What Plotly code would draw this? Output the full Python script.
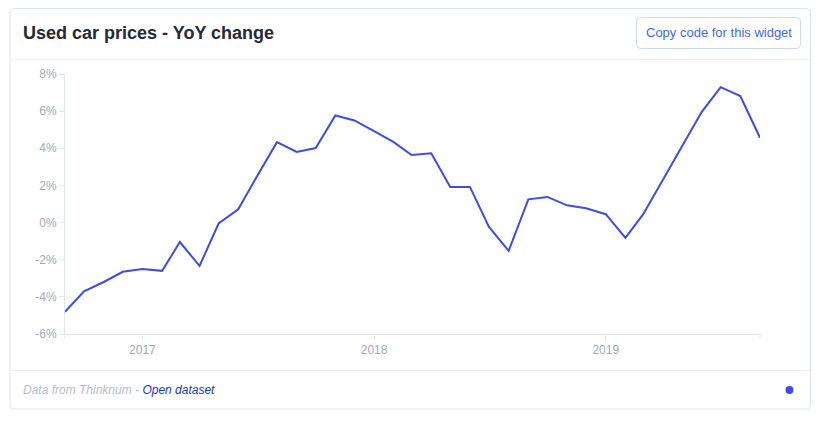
import plotly.graph_objects as go

# ---- data ----
months = ["2016-09-01", "2016-10-01", "2016-11-01", "2016-12-01",
          "2017-01-01", "2017-02-01", "2017-03-01", "2017-04-01", "2017-05-01", "2017-06-01",
          "2017-07-01", "2017-08-01", "2017-09-01", "2017-10-01", "2017-11-01", "2017-12-01",
          "2018-01-01", "2018-02-01", "2018-03-01", "2018-04-01", "2018-05-01", "2018-06-01",
          "2018-07-01", "2018-08-01", "2018-09-01", "2018-10-01", "2018-11-01", "2018-12-01",
          "2019-01-01", "2019-02-01", "2019-03-01", "2019-04-01", "2019-05-01", "2019-06-01",
          "2019-07-01", "2019-08-01", "2019-09-01"]
yoy_change = [-4.8, -3.7, -3.2, -2.65,
              -2.5, -2.6, -1.05, -2.33, -0.05, 0.72,
              2.52, 4.33, 3.8, 4.01, 5.77, 5.5,
              4.93, 4.33, 3.64, 3.73, 1.92, 1.92,
              -0.23, -1.52, 1.25, 1.38, 0.93, 0.77,
              0.45, -0.82, 0.45, 2.33, 4.15, 5.95,
              7.29, 6.81, 4.57]
y_ticks = [-6, -4, -2, 0, 2, 4, 6, 8]
y_tick_labels = [f"{v}%" for v in y_ticks]
x_ticks = ["2017-01-01", "2018-01-01", "2019-01-01"]
x_tick_labels = ["2017", "2018", "2019"]

W, H = 823, 422
L, R, T, B = 65, 760, 74, 334  # plot area in pixels


def px(x):
    return (x - L) / (R - L)


def py(y):
    return (B - y) / (B - T)


fig = go.Figure()
fig.add_trace(go.Scatter(x=months, y=yoy_change, mode="lines",
                         line=dict(color="#3d4ce6", width=2), hoverinfo="x+y"))

axis_col = "#e1e7f0"
fig.update_layout(
    width=W, height=H,
    margin=dict(l=L, r=W - R, t=T, b=H - B, pad=0),
    paper_bgcolor="white", plot_bgcolor="white",
    showlegend=False,
    font=dict(family="Liberation Sans, Arial, sans-serif", size=12, color="#a0a9c0"),
    xaxis=dict(type="date", range=[months[0], months[-1]], tickvals=x_ticks,
               ticktext=x_tick_labels, showgrid=False, zeroline=False,
               showline=True, linecolor=axis_col, linewidth=1,
               ticks="outside", ticklen=5, tickcolor=axis_col,
               tickfont=dict(size=12, color="#a0a9c0")),
    yaxis=dict(range=[-6, 8], tickvals=y_ticks, ticktext=y_tick_labels,
               showgrid=False, zeroline=False, showline=True,
               linecolor=axis_col, linewidth=1, ticks="outside", ticklen=5,
               tickcolor=axis_col, tickfont=dict(size=12, color="#a0a9c0")),
)


def rounded_rect(x0, y0, x1, y1, r):
    # pixel coords -> paper path
    X = lambda v: px(v)
    Y = lambda v: py(v)
    return (f"M {X(x0 + r)} {Y(y0)} L {X(x1 - r)} {Y(y0)} "
            f"Q {X(x1)} {Y(y0)} {X(x1)} {Y(y0 + r)} "
            f"L {X(x1)} {Y(y1 - r)} Q {X(x1)} {Y(y1)} {X(x1 - r)} {Y(y1)} "
            f"L {X(x0 + r)} {Y(y1)} Q {X(x0)} {Y(y1)} {X(x0)} {Y(y1 - r)} "
            f"L {X(x0)} {Y(y0 + r)} Q {X(x0)} {Y(y0)} {X(x0 + r)} {Y(y0)} Z")


shapes = [
    # card
    dict(type="path", xref="paper", yref="paper", path=rounded_rect(10, 8.5, 810.5, 409, 4),
         line=dict(color="#dde6f1", width=1), fillcolor="rgba(0,0,0,0)", layer="below"),
    # header separator
    dict(type="line", xref="paper", yref="paper", x0=px(10.5), x1=px(810), y0=py(59.5), y1=py(59.5),
         line=dict(color="#eef1f6", width=1)),
    # footer separator
    dict(type="line", xref="paper", yref="paper", x0=px(10.5), x1=px(810), y0=py(370.5), y1=py(370.5),
         line=dict(color="#eef1f6", width=1)),
    # button
    dict(type="path", xref="paper", yref="paper", path=rounded_rect(636.5, 17.5, 800.5, 48.5, 4),
         line=dict(color="#cdd9ec", width=1), fillcolor="white"),
    # end ticks of x domain
    dict(type="line", xref="paper", yref="paper", x0=0, x1=0, y0=0, y1=py(339),
         line=dict(color=axis_col, width=1)),
    dict(type="line", xref="paper", yref="paper", x0=1, x1=1, y0=0, y1=py(339),
         line=dict(color=axis_col, width=1)),
    # dot
    dict(type="circle", xref="paper", yref="paper", x0=px(785.5), x1=px(793.5),
         y0=py(394), y1=py(386), line=dict(width=0), fillcolor="#3d4ce6"),
]
fig.update_layout(shapes=shapes)

annotations = [
    dict(text="<b>Used car prices - YoY change</b>", xref="paper", yref="paper",
         x=px(21), y=py(33), xanchor="left", yanchor="middle", showarrow=False,
         font=dict(size=18, color="#252a36", family="Liberation Sans, Arial, sans-serif")),
    dict(text="Copy code for this widget", xref="paper", yref="paper",
         x=px(718.5), y=py(33), xanchor="center", yanchor="middle", showarrow=False,
         font=dict(size=13, color="#4466f0", family="Liberation Sans, Arial, sans-serif")),
    dict(text="<i>Data from Thinknum - </i><i><span style='color:#1537d6'>Open dataset</span></i>",
         xref="paper", yref="paper", x=px(21), y=py(390), xanchor="left", yanchor="middle",
         showarrow=False,
         font=dict(size=12, color="#b3bccf", family="Liberation Sans, Arial, sans-serif")),
]
fig.update_layout(annotations=annotations)

fig.write_html("out.html")
